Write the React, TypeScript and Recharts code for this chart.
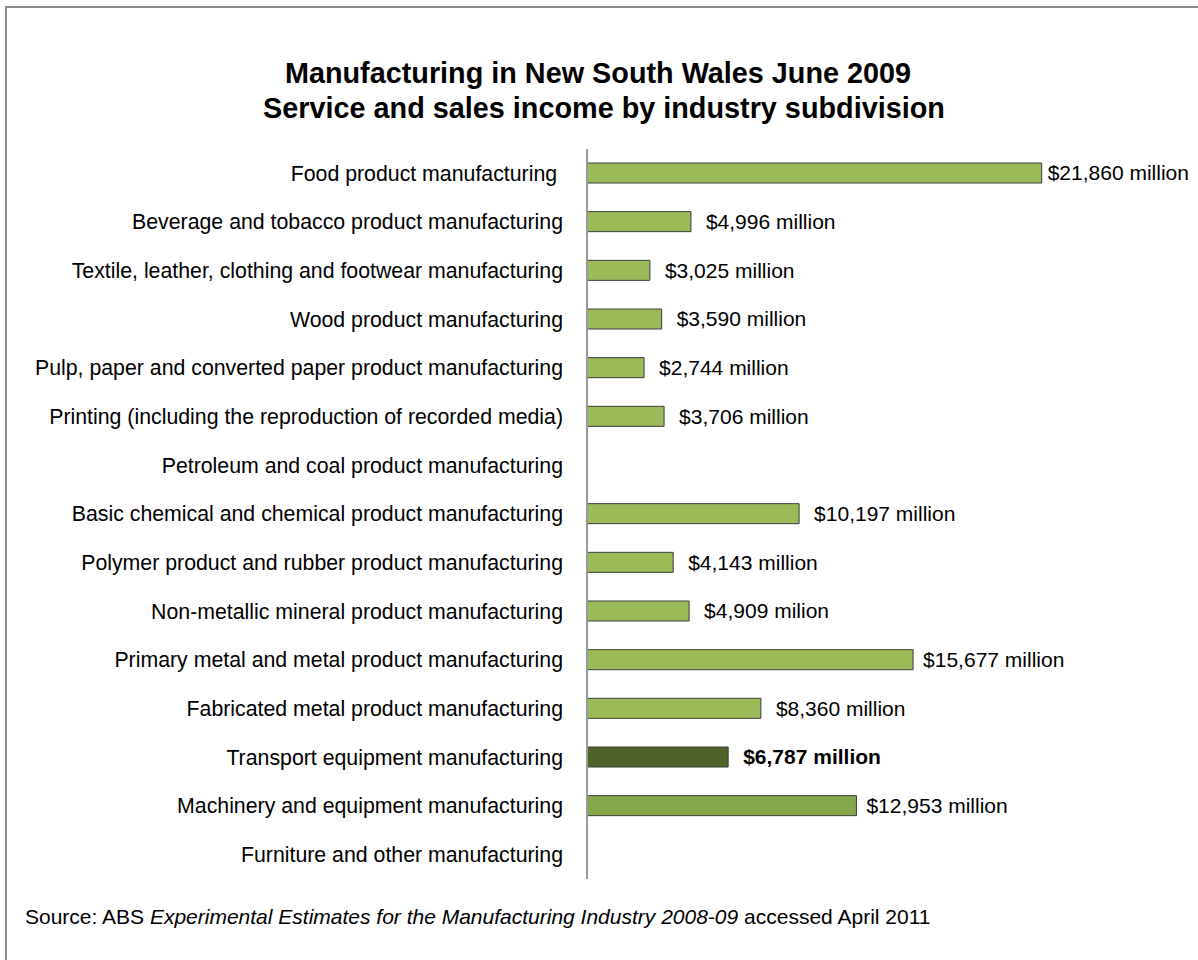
import { BarChart, Bar, XAxis, YAxis, Cell, LabelList } from 'recharts'

const CATEGORIES = [
  'Food product manufacturing',
  'Beverage and tobacco product manufacturing',
  'Textile, leather, clothing and footwear manufacturing',
  'Wood product manufacturing',
  'Pulp, paper and converted paper product manufacturing',
  'Printing (including the reproduction of recorded media)',
  'Petroleum and coal product manufacturing',
  'Basic chemical and chemical product manufacturing',
  'Polymer product and rubber product manufacturing',
  'Non-metallic mineral product manufacturing',
  'Primary metal and metal product manufacturing',
  'Fabricated metal product manufacturing',
  'Transport equipment manufacturing',
  'Machinery and equipment manufacturing',
  'Furniture and other manufacturing',
]

// $ million, blanks where the source gives no figure
const INCOME = [
  21860, 4996, 3025, 3590, 2744, 3706, null, 10197, 4143, 4909, 15677, 8360, 6787, 12953, null,
]

const VALUE_LABELS = [
  '$21,860 million',
  '$4,996 million',
  '$3,025 million',
  '$3,590 million',
  '$2,744 million',
  '$3,706 million',
  '',
  '$10,197 million',
  '$4,143 million',
  '$4,909 milion',
  '$15,677 million',
  '$8,360 million',
  '$6,787 million',
  '$12,953 million',
  '',
]

const X_DOMAIN = [0, 25000]

const HIGHLIGHT = 'Transport equipment manufacturing'
const FONT = '"Liberation Sans", Arial, Helvetica, sans-serif'

const data = CATEGORIES.map((name, i) => ({
  name,
  income: INCOME[i],
  label: VALUE_LABELS[i],
}))

function barFill(name: string) {
  if (name === HIGHLIGHT) return '#4f6228'
  if (name === 'Machinery and equipment manufacturing') return '#86a64a'
  return '#9bbb59'
}

function CategoryTick({ x, y, payload }: any) {
  const text = payload.value === 'Food product manufacturing' ? payload.value + ' ' : payload.value
  return (
    <text
      x={x}
      y={y}
      dy="0.35em"
      textAnchor="end"
      fill="#000"
      fontSize={21.3}
      fontFamily={FONT}
      style={{ whiteSpace: 'pre' }}
    >
      {text}
    </text>
  )
}

function ValueLabel({ x, y, width, height, value }: any) {
  if (!value) return null
  // LabelList skips the blank rows, so look the row up by its label
  const row = VALUE_LABELS.indexOf(value)
  const amount = INCOME[row] ?? 0
  const gap = amount > 20000 ? 6 : amount > 12000 ? 10 : 15
  const bold = CATEGORIES[row] === HIGHLIGHT
  return (
    <text
      x={Number(x) + Number(width) + gap}
      y={Number(y) + Number(height) / 2}
      dy="0.35em"
      fill="#000"
      fontSize={21}
      fontWeight={bold ? 'bold' : 'normal'}
      fontFamily={FONT}
    >
      {value}
    </text>
  )
}

export default function App() {
  return (
    <div
      style={{
        position: 'absolute',
        left: 0,
        top: 0,
        width: 1198,
        height: 960,
        overflow: 'hidden',
        background: '#fff',
        fontFamily: FONT,
      }}
    >
      <div
        style={{
          position: 'absolute',
          left: 5,
          top: 6,
          width: 1400,
          height: 1200,
          border: '2px solid #8c8c8c',
        }}
      />
      <BarChart
        width={1198}
        height={960}
        data={data}
        layout="vertical"
        margin={{ top: 149, right: 91, bottom: 81, left: 0 }}
        barSize={20}
        style={{ position: 'absolute', left: 0, top: 0 }}
      >
        <XAxis type="number" domain={X_DOMAIN} hide />
        <YAxis
          type="category"
          dataKey="name"
          width={587}
          interval={0}
          tickLine={false}
          tickSize={0}
          tickMargin={24}
          axisLine={{ stroke: '#9a9a9a', strokeWidth: 2 }}
          tick={<CategoryTick />}
        />
        <Bar dataKey="income" stroke="#3c3c3c" strokeWidth={1} isAnimationActive={false}>
          {data.map((d) => (
            <Cell key={d.name} fill={barFill(d.name)} />
          ))}
          <LabelList dataKey="label" content={<ValueLabel />} />
        </Bar>
      </BarChart>
      <svg
        width={1198}
        height={960}
        style={{ position: 'absolute', left: 0, top: 0, pointerEvents: 'none' }}
      >
        <text x={598} y={83} textAnchor="middle" fontSize={28.8} fontWeight="bold" fontFamily={FONT} fill="#000">
          Manufacturing in New South Wales June 2009
        </text>
        <text x={604} y={118} textAnchor="middle" fontSize={28.8} fontWeight="bold" fontFamily={FONT} fill="#000">
          Service and sales income by industry subdivision
        </text>
        <text x={25} y={924} fontSize={21} fontFamily={FONT} fill="#000" style={{ whiteSpace: 'pre' }}>
          <tspan>Source: ABS </tspan>
          <tspan fontStyle="italic">Experimental Estimates for the Manufacturing Industry 2008-09</tspan>
          <tspan> accessed April 2011</tspan>
        </text>
      </svg>
    </div>
  )
}
